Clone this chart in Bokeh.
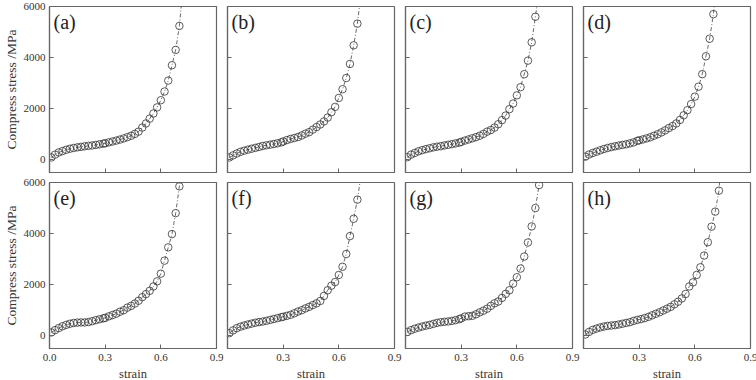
from bokeh.plotting import figure
from bokeh.layouts import column, row
from bokeh.models import Label, FixedTicker, PrintfTickFormatter, Range1d
from bokeh.embed import file_html
from bokeh.resources import INLINE

SERIF = "'Liberation Serif', serif"

# strain sampling (dense in the plateau, 0.02 steps afterwards)
strain_std = [0.01, 0.03, 0.05, 0.07, 0.09, 0.11, 0.13, 0.15, 0.17, 0.19,
              0.21, 0.23, 0.25, 0.27, 0.29, 0.30, 0.32, 0.34, 0.36, 0.38,
              0.40, 0.42, 0.44, 0.46, 0.48, 0.50, 0.52, 0.54, 0.56, 0.58,
              0.60, 0.62, 0.64, 0.66, 0.68, 0.70]
strain_g = strain_std + [0.72]
strain_h = [0.01, 0.03, 0.05, 0.07, 0.09, 0.11, 0.13, 0.15, 0.17, 0.19,
            0.21, 0.23, 0.25, 0.27, 0.29, 0.31, 0.33, 0.35, 0.37, 0.39,
            0.41, 0.43, 0.45, 0.47, 0.49, 0.51, 0.53, 0.55, 0.57, 0.59,
            0.61, 0.63, 0.65, 0.67, 0.69, 0.71, 0.73]

# compressive stress (MPa)
stress_a = [90, 200, 285, 340, 390, 430, 460, 485, 505, 525, 545, 560, 580, 605, 630,
            645, 680, 715, 750, 790, 835, 885, 940, 1010, 1100, 1260, 1420, 1610, 1810,
            2050, 2330, 2670, 3100, 3700, 4300, 5240]
stress_b = [90, 170, 245, 310, 355, 395, 430, 465, 500, 540, 565, 590, 615, 645, 680,
            715, 770, 815, 850, 890, 950, 1020, 1080, 1180, 1280, 1380, 1500, 1650, 1860,
            2070, 2420, 2760, 3200, 3750, 4480, 5330]
stress_c = [100, 200, 265, 330, 375, 415, 450, 485, 510, 530, 560, 585, 610, 640, 670,
            700, 750, 795, 840, 885, 940, 1010, 1100, 1165, 1260, 1390, 1550, 1730, 1980,
            2200, 2520, 2840, 3350, 3880, 4600, 5600]
stress_d = [120, 205, 265, 315, 370, 420, 460, 495, 525, 555, 580, 605, 640, 680, 740,
            760, 795, 835, 880, 940, 1000, 1070, 1150, 1240, 1320, 1420, 1560, 1740, 1940,
            2180, 2470, 2860, 3350, 4050, 4740, 5700]
stress_e = [130, 220, 300, 370, 425, 470, 500, 515, 520, 520, 535, 570, 610, 645, 680,
            700, 760, 810, 865, 940, 1000, 1100, 1170, 1260, 1370, 1510, 1630, 1760, 1930,
            2130, 2430, 2940, 3460, 3980, 4800, 5850]
stress_f = [100, 210, 295, 355, 400, 440, 475, 510, 535, 555, 585, 620, 655, 690, 725,
            745, 780, 820, 880, 945, 1000, 1070, 1130, 1200, 1270, 1360, 1560, 1780, 1960,
            2100, 2380, 2700, 3200, 3900, 4580, 5330]
stress_g = [150, 220, 275, 320, 360, 395, 425, 465, 505, 530, 545, 560, 580, 610, 650,
            680, 750, 765, 780, 840, 915, 980, 1060, 1170, 1270, 1340, 1480, 1640, 1780,
            2040, 2290, 2630, 3100, 3650, 4280, 5000, 5900]
stress_h = [50, 150, 230, 280, 325, 360, 385, 400, 415, 440, 470, 500, 530, 580, 620,
            650, 690, 740, 800, 860, 920, 990, 1060, 1130, 1230, 1333, 1460, 1635, 1930,
            2090, 2380, 2680, 3140, 3660, 4270, 4860, 5680]

# next recorded point of each curve, beyond the stress axis limit
next_strain = [0.714, 0.716, 0.712, 0.708, 0.706, 0.720, 0.725, 0.737]
next_stress = [6300, 6300, 6200, 6250, 6300, 6300, 6300, 6300]

panel_tags = ["(a)", "(b)", "(c)", "(d)", "(e)", "(f)", "(g)", "(h)"]
panel_strain = [strain_std, strain_std, strain_std, strain_std,
                strain_std, strain_std, strain_g, strain_h]
panel_stress = [stress_a, stress_b, stress_c, stress_d,
                stress_e, stress_f, stress_g, stress_h]

x_ticks = [0.0, 0.3, 0.6, 0.9]
y_ticks = [0, 2000, 4000, 6000]
y_label = "Compress stress /MPa"
x_label = "strain"

FRAME_COLOR = "#666666"
TEXT_COLOR = "#333333"


def style_axis(ax, labelled, positions):
    ax.axis_line_color = FRAME_COLOR
    ax.axis_line_width = 1.2
    ax.major_tick_line_color = FRAME_COLOR
    ax.minor_tick_line_color = FRAME_COLOR
    ax.major_tick_in = 4
    ax.major_tick_out = 0
    ax.minor_tick_in = 4
    ax.minor_tick_out = 0
    ax.major_label_text_font = SERIF
    ax.major_label_text_color = TEXT_COLOR
    ax.major_label_text_font_size = "11px"
    ax.axis_label_text_font = SERIF
    ax.axis_label_text_font_style = "normal"
    ax.axis_label_text_color = TEXT_COLOR
    if labelled:
        ax.ticker = FixedTicker(ticks=positions)
    else:
        # unlabelled side: tick marks only, drawn as minor ticks
        ax.ticker = FixedTicker(ticks=[], minor_ticks=positions)
        ax.major_label_standoff = 0


def make_panel(i):
    col, rw = i % 4, i // 4
    first_col = col == 0
    last_col = col == 3
    bottom_row = rw == 1

    p = figure(
        title=None,
        frame_width=167, frame_height=166,
        x_range=Range1d(0, 0.9), y_range=Range1d(-500, 6000),
        output_backend="svg", toolbar_location=None,
        min_border_left=45 if first_col else 3,
        min_border_right=10 if last_col else 8,
        min_border_top=6,
        min_border_bottom=34 if bottom_row else 4,
        background_fill_color="white", border_fill_color="white",
    )
    p.grid.visible = False
    p.outline_line_color = FRAME_COLOR
    p.outline_line_width = 1.2

    xs = panel_strain[i] + [next_strain[i]]
    ys = panel_stress[i] + [next_stress[i]]
    p.line(xs, ys, line_color="#444444", line_width=0.8, line_dash="4 2 1 2")
    p.scatter(panel_strain[i], panel_stress[i], marker="circle", size=7.5,
              fill_color=None, line_color="#333333", line_width=0.8)

    xa = p.xaxis[0]
    style_axis(xa, bottom_row, x_ticks if first_col else x_ticks[1:])
    xa.formatter = PrintfTickFormatter(format="%.1f")
    if bottom_row:
        xa.major_label_standoff = 5
        xa.axis_label = x_label
        xa.axis_label_standoff = 3
        xa.axis_label_text_font_size = "12.5px"

    ya = p.yaxis[0]
    style_axis(ya, first_col, y_ticks)
    if first_col:
        ya.major_label_standoff = 4
        ya.axis_label = y_label
        ya.axis_label_standoff = 2
        ya.axis_label_text_font_size = "13.5px"

    p.add_layout(Label(x=0.022, y=5380, text=panel_tags[i],
                       text_font=SERIF, text_font_size="20px",
                       text_color="#222222", text_baseline="middle"))
    return p


panels = [make_panel(i) for i in range(8)]
layout = column(row(*panels[:4]), row(*panels[4:]))

open("out.html", "w").write(file_html(layout, INLINE))
